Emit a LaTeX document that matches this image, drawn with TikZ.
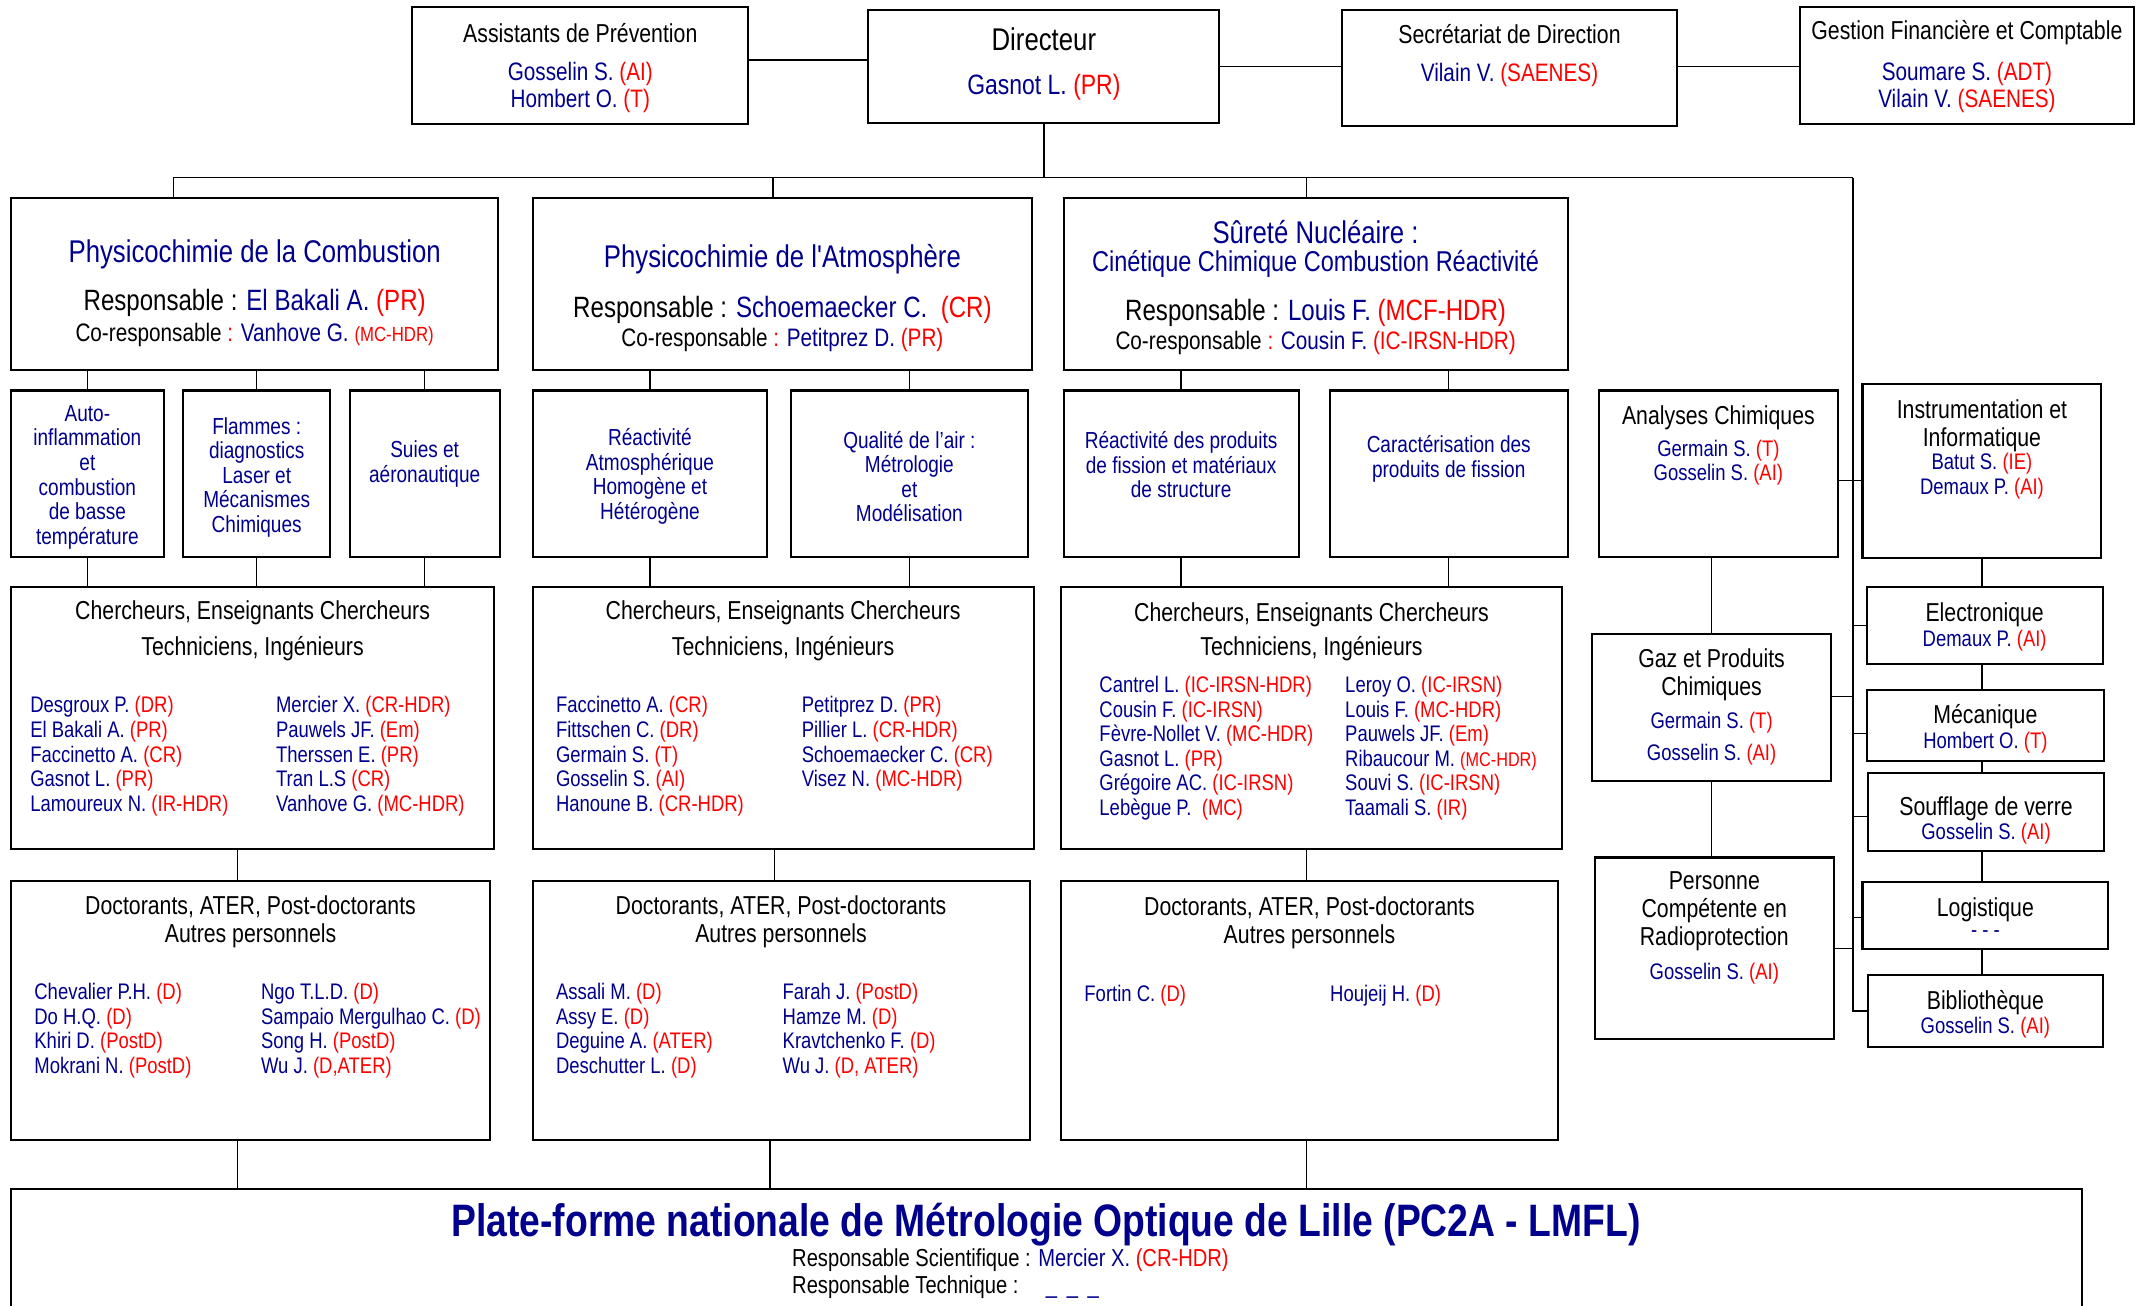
\documentclass[tikz,border=0pt]{standalone}
\usepackage{fontspec}
\setmainfont{Liberation Sans}[FakeStretch=0.82]
\definecolor{nameblue}{RGB}{0,0,140}
\definecolor{gradered}{RGB}{255,0,0}
\newcommand{\fsz}[2]{\fontsize{#1}{#2}\selectfont}
\newcommand{\who}[2]{\textcolor{nameblue}{#1} \textcolor{gradered}{(#2)}}
\newcommand{\straightquote}{{\addfontfeature{Ligatures=TeXOff}'}}
\tikzset{
  every node/.style={
    inner sep=0pt
  },
  box/.style 2 args={
    draw,
    line width=1.5pt,
    minimum width=#1,
    minimum height=#2
  },
  lowered/.style={
    yshift=-2pt
  },
  head/.style={
    font=\fsz{19}{20.5},
    align=center,
    lowered
  },
  topnames/.style={
    font=\fsz{18.5}{20},
    align=center,
    lowered
  },
  teamtitle/.style={
    font=\fsz{23}{24},
    text=nameblue,
    lowered
  },
  resp/.style={
    font=\fsz{21.5}{24},
    lowered
  },
  coresp/.style={
    font=\fsz{18.5}{20},
    lowered
  },
  subteam/.style={
    font=\fsz{17}{18},
    align=center,
    text=nameblue,
    lowered
  },
  names/.style={
    font=\fsz{16.5}{18},
    align=left,
    anchor=north west
  },
  link/.style={
    line width=1pt
  }
}

\begin{document}
\begin{tikzpicture}[x=1pt,y=-1pt]
    \useasboundingbox (0,0) rectangle (1568,956);
    \clip (0,0) rectangle (1568,956);
    % direction
    \node[box={246}{86}] (assist) at (425,48) {};
    \node[head] (assist-t) at (425,22) {Assistants de Prévention};
    \node[topnames] (assist-n) at (425,62) {\who{Gosselin S.}{AI}\\\who{Hombert O.}{T}};
    \node[box={257}{83}] (dir) at (764.5,48.5) {};
    \node[font=\fsz{23}{24}, lowered] (dir-t) at (764.5,27) {Directeur};
    \node[font=\fsz{20.5}{22}, lowered] (dir-n) at (764.5,62) {\who{Gasnot L.}{PR}};
    \node[box={245}{85}] (secr) at (1105.5,49.5) {};
    \node[head] (secr-t) at (1105.5,23) {Secrétariat de Direction};
    \node[topnames] (secr-n) at (1105.5,53) {\who{Vilain V.}{SAENES}};
    \node[box={245}{86}] (gest) at (1440.5,48) {};
    \node[head] (gest-t) at (1440.5,22) {Gestion Financière et Comptable};
    \node[topnames] (gest-n) at (1440.5,62) {\who{Soumare S.}{ADT}\\\who{Vilain V.}{SAENES}};

    % teams
    \node[box={357}{126}] (comb) at (186.5,208) {};
    \node[teamtitle] (comb-t) at (186.5,184) {Physicochimie de la Combustion};
    \node[resp] (comb-r) at (186.5,220) {Responsable : \who{El Bakali A.}{PR}};
    \node[coresp] (comb-c) at (186.5,243) {Co-responsable \textcolor{gradered}{:} \textcolor{nameblue}{Vanhove G.} {\fsz{15}{16}\textcolor{gradered}{(MC-HDR)}}};
    \node[box={366}{126}] (atmo) at (573,208) {};
    \node[teamtitle] (atmo-t) at (573,188) {Physicochimie de l\straightquote Atmosphère};
    \node[resp] (atmo-r) at (573,225) {Responsable : \textcolor{nameblue}{Schoemaecker C.}\ \ \textcolor{gradered}{(CR)}};
    \node[coresp] (atmo-c) at (573,247) {Co-responsable \textcolor{gradered}{:} \who{Petitprez D.}{PR}};
    \node[box={369}{126}] (surete) at (963.5,208) {};
    \node[teamtitle] (surete-t) at (963.5,168) {Sûreté Nucléaire :};
    \node[font=\fsz{21}{22}, text=nameblue, lowered] (surete-s) at (963.5,191) {Cinétique Chimique Combustion Réactivité};
    \node[resp] (surete-r) at (963.5,227) {Responsable : \who{Louis F.}{MCF-HDR}};
    \node[coresp] (surete-c) at (963.5,249) {Co-responsable \textcolor{gradered}{:} \who{Cousin F.}{IC-IRSN-HDR}};

    % sub-teams
    \node[box={112}{122}] (auto) at (64,347) {};
    \node[subteam] (auto-t) at (64,347.5) {Auto-\\inflammation\\et\\combustion\\de basse\\température};
    \node[box={108}{122}] (flam) at (188,347) {};
    \node[subteam] (flam-t) at (188,347.5) {Flammes :\\diagnostics\\Laser et\\Mécanismes\\Chimiques};
    \node[box={110}{122}] (suies) at (311,347) {};
    \node[subteam] (suies-t) at (311,338) {Suies et\\aéronautique};
    \node[box={172}{122}] (reacA) at (476,347) {};
    \node[subteam] (reacA-t) at (476,347) {Réactivité\\Atmosphérique\\Homogène et\\Hétérogène};
    \node[box={174}{122}] (qual) at (666,347) {};
    \node[subteam] (qual-t) at (666,347) {Qualité de l’air :\\Métrologie\\et\\Modélisation};
    \node[box={172}{122}] (reacP) at (865,347) {};
    \node[subteam] (reacP-t) at (865,338.5) {Réactivité des produits\\de fission et matériaux\\de structure};
    \node[box={174}{122}] (carac) at (1061,347) {};
    \node[subteam] (carac-t) at (1061,334) {Caractérisation des\\produits de fission};

    % chercheurs
    \node[box={354}{192}] (cher1) at (185,526) {};
    \node[head, font=\fsz{19}{26}] (cher1-t) at (185,460) {Chercheurs, Enseignants Chercheurs\\Techniciens, Ingénieurs};
    \node[names] (cher1-a) at (22,510) {\who{Desgroux P.}{DR}\\\who{El Bakali A.}{PR}\\\who{Faccinetto A.}{CR}\\\who{Gasnot L.}{PR}\\\who{Lamoureux N.}{IR-HDR}};
    \node[names] (cher1-b) at (202,510) {\who{Mercier X.}{CR-HDR}\\\who{Pauwels JF.}{Em}\\\who{Therssen E.}{PR}\\\who{Tran L.S}{CR}\\\who{Vanhove G.}{MC-HDR}};
    \node[box={367}{192}] (cher2) at (573.5,526) {};
    \node[head, font=\fsz{19}{26}] (cher2-t) at (573.5,460) {Chercheurs, Enseignants Chercheurs\\Techniciens, Ingénieurs};
    \node[names] (cher2-a) at (407,510) {\who{Faccinetto A.}{CR}\\\who{Fittschen C.}{DR}\\\who{Germain S.}{T}\\\who{Gosselin S.}{AI}\\\who{Hanoune B.}{CR-HDR}};
    \node[names] (cher2-b) at (587,510) {\who{Petitprez D.}{PR}\\\who{Pillier L.}{CR-HDR}\\\who{Schoemaecker C.}{CR}\\\who{Visez N.}{MC-HDR}};
    \node[box={367}{192}] (cher3) at (960.5,526) {};
    \node[head, font=\fsz{19}{25}] (cher3-t) at (960.5,460.5) {Chercheurs, Enseignants Chercheurs\\Techniciens, Ingénieurs};
    \node[names] (cher3-a) at (805,495) {\who{Cantrel L.}{IC-IRSN-HDR}\\\who{Cousin F.}{IC-IRSN}\\\who{Fèvre-Nollet V.}{MC-HDR}\\\who{Gasnot L.}{PR}\\\who{Grégoire AC.}{IC-IRSN}\\\textcolor{nameblue}{Lebègue P.}\ \ \textcolor{gradered}{(MC)}};
    \node[names] (cher3-b) at (985,495) {\who{Leroy O.}{IC-IRSN}\\\who{Louis F.}{MC-HDR}\\\who{Pauwels JF.}{Em}\\\textcolor{nameblue}{Ribaucour M.} {\fsz{14.5}{18}\textcolor{gradered}{(MC-HDR)}}\\\who{Souvi S.}{IC-IRSN}\\\who{Taamali S.}{IR}};

    % doctorants
    \node[box={351}{190}] (doc1) at (183.5,740) {};
    \node[head] (doc1-t) at (183.5,673) {Doctorants, ATER, Post-doctorants\\Autres personnels};
    \node[names] (doc1-a) at (25,720) {\who{Chevalier P.H.}{D}\\\who{Do H.Q.}{D}\\\who{Khiri D.}{PostD}\\\who{Mokrani N.}{PostD}};
    \node[names] (doc1-b) at (191,720) {\who{Ngo T.L.D.}{D}\\\who{Sampaio Mergulhao C.}{D}\\\who{Song H.}{PostD}\\\who{Wu J.}{D,ATER}};
    \node[box={364}{190}] (doc2) at (572,740) {};
    \node[head] (doc2-t) at (572,673) {Doctorants, ATER, Post-doctorants\\Autres personnels};
    \node[names] (doc2-a) at (407,720) {\who{Assali M.}{D}\\\who{Assy E.}{D}\\\who{Deguine A.}{ATER}\\\who{Deschutter L.}{D}};
    \node[names] (doc2-b) at (573,720) {\who{Farah J.}{PostD}\\\who{Hamze M.}{D}\\\who{Kravtchenko F.}{D}\\\who{Wu J.}{D, ATER}};
    \node[box={364}{190}] (doc3) at (959,740) {};
    \node[head] (doc3-t) at (959,674) {Doctorants, ATER, Post-doctorants\\Autres personnels};
    \node[names] (doc3-a) at (794,721) {\who{Fortin C.}{D}};
    \node[names] (doc3-b) at (974,721) {\who{Houjeij H.}{D}};

    % plate-forme
    \node[box={1517}{120}] (plat) at (766.5,931) {};
    \node[font=\bfseries\fsz{33.3}{36}, text=nameblue, lowered] (plat-t) at (766,895) {Plate-forme nationale de Métrologie Optique de Lille (PC2A - LMFL)};
    \node[font=\fsz{18}{20}, anchor=west, lowered] (plat-s) at (580,921) {Responsable Scientifique : \who{Mercier X.}{CR-HDR}};
    \node[font=\fsz{18}{20}, anchor=west, lowered] (plat-r) at (580,941) {Responsable Technique :\hspace{20pt}\textcolor{nameblue}{\_\ \,\_\ \,\_}};

    % services
    \node[box={175}{122}] (analyses) at (1258.5,347) {};
    \node[head] (analyses-t) at (1258.5,304) {Analyses Chimiques};
    \node[names, anchor=north, align=center] (analyses-n) at (1258.5,322) {\who{Germain S.}{T}\\\who{Gosselin S.}{AI}};
    \node[box={175}{108}] (gaz) at (1253.5,518) {};
    \node[head] (gaz-t) at (1253.5,492) {Gaz et Produits\\Chimiques};
    \node[names, anchor=north, align=center, font=\fsz{16.5}{24}] (gaz-n) at (1253.5,521) {\who{Germain S.}{T}\\\who{Gosselin S.}{AI}};
    \node[box={175}{133}] (perso) at (1255.5,694.5) {};
    \node[head] (perso-t) at (1255.5,665.5) {Personne\\Compétente en\\Radioprotection};
    \node[names, anchor=north, align=center] (perso-n) at (1255.5,705) {\who{Gosselin S.}{AI}};
    \node[box={175}{128}] (instru) at (1451.5,345) {};
    \node[head] (instru-t) at (1451.5,310) {Instrumentation et\\Informatique};
    \node[names, anchor=north, align=center] (instru-n) at (1451.5,332) {\who{Batut S.}{IE}\\\who{Demaux P.}{AI}};
    \node[box={173}{56}] (elec) at (1453.5,458) {};
    \node[head] (elec-t) at (1453.5,448) {Electronique};
    \node[names, anchor=north, align=center] (elec-n) at (1453.5,461) {\who{Demaux P.}{AI}};
    \node[box={174}{52}] (meca) at (1454,531) {};
    \node[head] (meca-t) at (1454,523) {Mécanique};
    \node[names, anchor=north, align=center] (meca-n) at (1454,536) {\who{Hombert O.}{T}};
    \node[box={173}{57}] (souff) at (1454.5,594.5) {};
    \node[head] (souff-t) at (1454.5,590) {Soufflage de verre};
    \node[names, anchor=north, align=center] (souff-n) at (1454.5,603) {\who{Gosselin S.}{AI}};
    \node[box={180}{49}] (logist) at (1454,670.5) {};
    \node[head] (logist-t) at (1454,664) {Logistique};
    \node[font=\fsz{16.5}{18}, text=nameblue] (logist-n) at (1454,684) {- - -};
    \node[box={172}{53}] (biblio) at (1454,740.5) {};
    \node[head] (biblio-t) at (1454,732) {Bibliothèque};
    \node[names, anchor=north, align=center] (biblio-n) at (1454,745) {\who{Gosselin S.}{AI}};

    % connectors
    \coordinate (busL) at (127,130);
    \coordinate (busR) at (1357,130);
    \coordinate (busA) at (566,130);
    \coordinate (busS) at (957,130);
    \draw[link] ([yshift=4]assist.east) -- ([yshift=4]assist.east -| dir.west);
    \draw[link] (dir.east) -- (dir.east -| secr.west);
    \draw[link] ([yshift=1]secr.east) -- ([yshift=1]secr.east -| gest.west);
    \draw[link] (dir.south) -- (dir.south |- busL);
    \draw[link] (busL) -- (busR);
    \draw[link] (busL) -- (busL |- comb.north);
    \draw[link] (busA) -- (busA |- atmo.north);
    \draw[link] (busS) -- (busS |- surete.north);
    \draw[link] (busR) |- (biblio.west);
    \foreach \s/\t/\u in {auto/comb/cher1, flam/comb/cher1, suies/comb/cher1,
      reacA/atmo/cher2, qual/atmo/cher2, reacP/surete/cher3, carac/surete/cher3} {
      \draw[link] (\s.north) -- (\s.north |- \t.south);
      \draw[link] (\s.south) -- (\s.south |- \u.north);
    }
    \foreach \c/\d/\x in {cher1/doc1/174, cher2/doc2/567, cher3/doc3/957} {
      \coordinate (v) at (\x,0);
      \draw[link] (\c.south -| v) -- (\d.north -| v);
    }
    \foreach \d/\x in {doc1/174, doc2/564, doc3/957} {
      \coordinate (v) at (\x,0);
      \draw[link] (\d.south -| v) -- (plat.north -| v);
    }
    % services
    \draw[link] ([yshift=-5]analyses.east) -- ([yshift=-5]analyses.east -| instru.west);
    \draw[link] ([yshift=8]gaz.east) -- ([yshift=8]gaz.east -| busR);
    \draw[link] (perso.east) -- (perso.east -| busR);
    \draw[link] (elec.west) -- (elec.west -| busR);
    \draw[link] ([yshift=-6]meca.west) -- ([yshift=-6]meca.west -| busR);
    \draw[link] ([yshift=-3.5]souff.west) -- ([yshift=-3.5]souff.west -| busR);
    \draw[link] ([yshift=-1.5]logist.west) -- ([yshift=-1.5]logist.west -| busR);
    \draw[link] (analyses.south -| gaz.north) -- (gaz.north);
    \draw[link] (gaz.south) -- (gaz.south |- perso.north);
    \draw[link] (instru.south) -- (instru.south |- elec.north);
    \foreach \a/\b in {elec/meca, meca/souff, souff/logist, logist/biblio}
      \draw[link] (\a.south -| instru.south) -- (\b.north -| instru.south);
\end{tikzpicture}
\end{document}
